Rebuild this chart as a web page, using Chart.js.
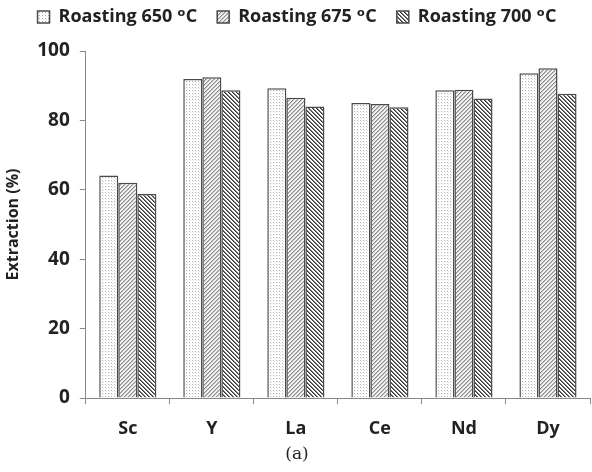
<!DOCTYPE html>
<html><head><meta charset="utf-8">
<script src="https://cdn.jsdelivr.net/npm/chart.js@4/dist/chart.umd.min.js"></script>
<style>html,body{margin:0;padding:0;background:#fff;}#wrap{width:592px;height:472px;}</style>
</head><body><div id="wrap"><canvas id="c" width="592" height="472"></canvas></div>
<script>
const categories = ["Sc", "Y", "La", "Ce", "Nd", "Dy"];
const seriesNames = ["Roasting 650 \u1D52C", "Roasting 675 \u1D52C", "Roasting 700 \u1D52C"];
const values650 = [64.1, 91.9, 89.3, 85.0, 88.7, 93.6];
const values675 = [62.0, 92.4, 86.5, 84.7, 88.8, 95.0];
const values700 = [58.8, 88.7, 84.0, 83.8, 86.3, 87.7];
const yTicks = [0, 20, 40, 60, 80, 100];

function makePattern(kind) {
  const s = kind === 'dots' ? 3 : 4;
  const c = document.createElement('canvas');
  c.width = s; c.height = s;
  const g = c.getContext('2d');
  g.fillStyle = '#fff'; g.fillRect(0, 0, s, s);
  for (let x = 0; x < s; x++) {
    for (let y = 0; y < s; y++) {
      let col = null;
      if (kind === 'dots') {
        if (x === 0 && y === 0) col = '#b0b0b0';
        else if (x === 1 && y === 1) col = '#e4e4e4';
      } else if (kind === 'fwd') {
        const m = (x + y) % 4;
        if (m === 0) col = '#8a8a8a';
        else if (m === 1) col = '#c4c4c4';
        else col = '#f2f2f2';
      } else {
        const m = ((x - y) % 4 + 4) % 4;
        if (m === 0) col = '#3a3a3a';
        else if (m === 1) col = '#7a7a7a';
      }
      if (col) { g.fillStyle = col; g.fillRect(x, y, 1, 1); }
    }
  }
  return g.createPattern(c, 'repeat');
}
const ctx0 = document.getElementById('c').getContext('2d');
const fills = [makePattern('dots'), makePattern('fwd'), makePattern('back')];
const seriesValues = [values650, values675, values700];

const legendSpacer = {
  id: 'legendSpacer',
  beforeInit(chart) {
    const orig = chart.legend.fit;
    chart.legend.fit = function () { orig.call(this); this.height += 15; };
  }
};

new Chart(ctx0, {
  type: 'bar',
  data: {
    labels: categories,
    datasets: seriesNames.map((n, i) => ({
      label: n,
      data: seriesValues[i],
      backgroundColor: fills[i],
      borderColor: '#4a4a4a',
      borderWidth: 1.5,
      borderSkipped: 'bottom',
      barPercentage: 1.0,
      categoryPercentage: 0.68
    }))
  },
  plugins: [legendSpacer],
  options: {
    responsive: false,
    animation: false,
    devicePixelRatio: 1,
    layout: { padding: { left: 4, right: 2, top: -12, bottom: 0 } },
    plugins: {
      legend: {
        position: 'top',
        labels: {
          font: { family: 'Open Sans, DejaVu Sans', size: 18, weight: 'bold' },
          color: '#222',
          boxWidth: 12, boxHeight: 12,
          padding: 20
        }
      },
      title: {
        display: true,
        text: '(a)',
        position: 'bottom',
        font: { family: 'DejaVu Serif, Liberation Serif', size: 17, weight: 'normal', lineHeight: 1.0 },
        color: '#222',
        padding: { top: -8, bottom: 9 }
      },
      tooltip: { enabled: false }
    },
    scales: {
      x: {
        grid: { display: true, drawOnChartArea: false, offset: true, tickLength: 6, color: '#888', lineWidth: 1 },
        border: { display: true, color: '#888', width: 1 },
        ticks: { font: { family: 'Open Sans, DejaVu Sans', size: 18, weight: 'bold', lineHeight: 1.0 }, color: '#222', padding: 16 }
      },
      y: {
        min: 0, max: 100,
        afterBuildTicks: (ax) => { ax.ticks = yTicks.map(v => ({ value: v })); },
        grid: { display: true, drawOnChartArea: false, tickLength: 6, color: '#888', lineWidth: 1 },
        border: { display: true, color: '#888', width: 1 },
        ticks: { font: { family: 'Open Sans, DejaVu Sans', size: 19, weight: 'bold' }, color: '#222', padding: 10 },
        title: { display: true, text: 'Extraction (%)', font: { family: 'Open Sans, DejaVu Sans', size: 16, weight: 'bold' }, color: '#222', padding: { top: 0, bottom: 4 } }
      }
    }
  }
});
</script>
</body></html>
